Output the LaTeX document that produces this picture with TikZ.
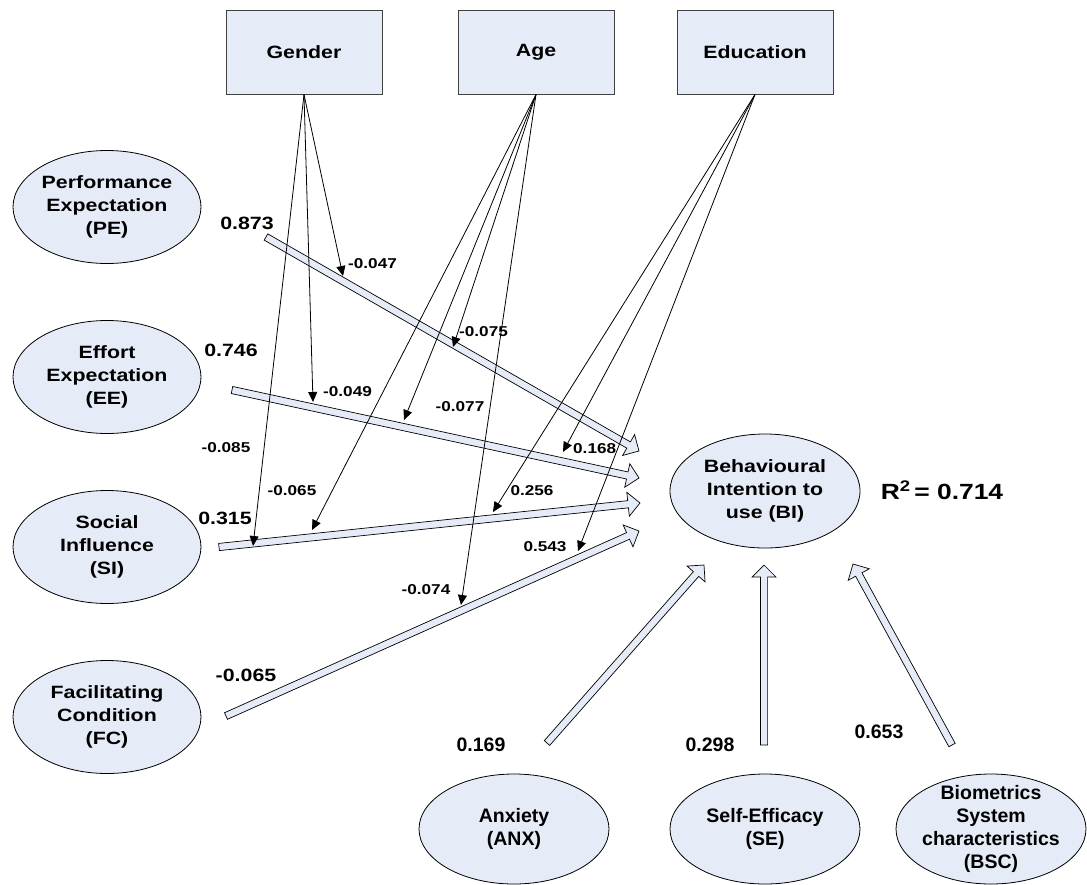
\documentclass[tikz,border=0pt]{standalone}
\usepackage{fontspec}
\setmainfont{Liberation Sans}[FakeStretch=1.2]
\newfontfamily\narrowfont{Liberation Sans}
\usetikzlibrary{shapes.geometric,arrows.meta,calc}
\definecolor{nodefill}{RGB}{230,236,247}
\definecolor{boxline}{RGB}{64,64,64}
\newcommand{\nodefnt}{\fontsize{17.8}{22.7}\selectfont\bfseries}
\newcommand{\smallfnt}{\fontsize{14.3}{16}\selectfont\bfseries}
\newcommand{\botfnt}{\narrowfont\fontsize{19.5}{23}\selectfont\bfseries}
\newcommand{\fatarr}[2]{%
  \coordinate (fm) at ($(#2)!12pt!(#1)$);
  \draw[fat] ($(#1)!3.6pt!90:(#2)$) -- ($(fm)!3.6pt!-90:(#1)$) -- ($(fm)!12pt!-90:(#1)$) -- (#2)
     -- ($(fm)!12pt!90:(#1)$) -- ($(fm)!3.6pt!90:(#1)$) -- ($(#1)!3.6pt!-90:(#2)$) -- cycle;
}
\begin{document}
\begin{tikzpicture}[x=1pt,y=-1pt,
  ell/.style={ellipse, draw=black, line width=0.8pt, fill=nodefill, minimum width=188pt,
     minimum height=113pt, inner sep=-15pt, align=center, font=\nodefnt},
  bell/.style={ell, minimum width=190pt, minimum height=110pt, font=\botfnt},
  box/.style={rectangle, draw=boxline, line width=1pt, fill=nodefill, minimum width=156pt,
     minimum height=84pt, font=\nodefnt},
  coef/.style={font=\nodefnt, inner sep=0pt},
  bcoef/.style={font=\botfnt, inner sep=0pt},
  mcoef/.style={font=\smallfnt, inner sep=0pt},
  modarrow/.style={draw=black, line width=0.8pt, -{Triangle[length=10pt,width=9pt]}},
  fat/.style={draw=black, line width=0.7pt, fill=nodefill, line join=miter}]
\useasboundingbox (0,0) rectangle (1087,884);

% moderator boxes
\node[box] (gender) at (304,52) {Gender};
\node[box] (age) at (536,52) {Age};
\node[box] (edu) at (755,52) {Education};

% left constructs
\node[ell] (pe) at (107,207) {Performance\\Expectation\\(PE)};
\node[ell] (ee) at (107,377) {Effort\\Expectation\\(EE)};
\node[ell] (si) at (107,547) {Social\\Influence\\(SI)};
\node[ell] (fc) at (107,717) {Facilitating\\Condition\\(FC)};

% dependent
\node[ell, minimum width=190pt, minimum height=114pt] (bi) at (765,491) {Behavioural\\Intention to\\use (BI)};
\node[font=\fontsize{22}{26}\selectfont\bfseries, inner sep=0pt] (r2) at (942,490) {R\textsuperscript{2}\,= 0.714};

% bottom constructs
\node[bell] (anx) at (514,829) {Anxiety\\(ANX)};
\node[bell] (se) at (765,829) {Self-Efficacy\\(SE)};
\node[bell] (bsc) at (991,829) {Biometrics\\System\\characteristics\\(BSC)};

% endpoints of the path arrows
\coordinate (pes) at (266,237); \coordinate (pee) at (639,451);
\coordinate (ees) at (232,390); \coordinate (eee) at (639,478);
\coordinate (sis) at (219,547); \coordinate (sie) at (640,503);
\coordinate (fcs) at (226,716); \coordinate (fce) at (639,531);
\coordinate (anxs) at (547,743); \coordinate (anxe) at (704,565);
\coordinate (ses) at (764,745); \coordinate (see) at (764,565);
\coordinate (bscs) at (952,745); \coordinate (bsce) at (853,564);

\fatarr{pes}{pee}
\fatarr{ees}{eee}
\fatarr{sis}{sie}
\fatarr{fcs}{fce}
\fatarr{anxs}{anxe}
\fatarr{ses}{see}
\fatarr{bscs}{bsce}

% path coefficients
\node[coef] (c1) at (247,223) {0.873};
\node[coef] (c2) at (231,350) {0.746};
\node[coef] (c3) at (225,518) {0.315};
\node[coef] (c4) at (246,675) {-0.065};
\node[bcoef] (c5) at (481,745) {0.169};
\node[bcoef] (c6) at (710,745) {0.298};
\node[bcoef] (c7) at (879,732) {0.653};

% moderator targets
\coordinate (g1) at (343,276);
\coordinate (g2) at (313,402);
\coordinate (g3) at (253,546);
\coordinate (a1) at (453,347);
\coordinate (a2) at (404,420);
\coordinate (a3) at (312,530);
\coordinate (a4) at (461,605);
\coordinate (e1) at (563,452);
\coordinate (e2) at (493,512);
\coordinate (e3) at (578,551);

\draw[modarrow] (gender.south) -- (g1);
\draw[modarrow] (gender.south) -- (g2);
\draw[modarrow] (gender.south) -- (g3);
\draw[modarrow] (age.south) -- (a1);
\draw[modarrow] (age.south) -- (a2);
\draw[modarrow] (age.south) -- (a3);
\draw[modarrow] (age.south) -- (a4);
\draw[modarrow] (edu.south) -- (e1);
\draw[modarrow] (edu.south) -- (e2);
\draw[modarrow] (edu.south) -- (e3);

% moderator coefficients
\node[mcoef, anchor=west] (m1) at (348,264) {-0.047};
\node[mcoef, anchor=west] (m2) at (323,392) {-0.049};
\node[mcoef] (m3) at (226,448) {-0.085};
\node[mcoef, anchor=west] (m4) at (459,332) {-0.075};
\node[mcoef] (m5) at (460,407) {-0.077};
\node[mcoef] (m6) at (292,491) {-0.065};
\node[mcoef] (m7) at (426,590) {-0.074};
\node[mcoef, anchor=west] (m8) at (573,449) {0.168};
\node[mcoef] (m9) at (532,491) {0.256};
\node[mcoef] (m10) at (545,547) {0.543};
\end{tikzpicture}
\end{document}
